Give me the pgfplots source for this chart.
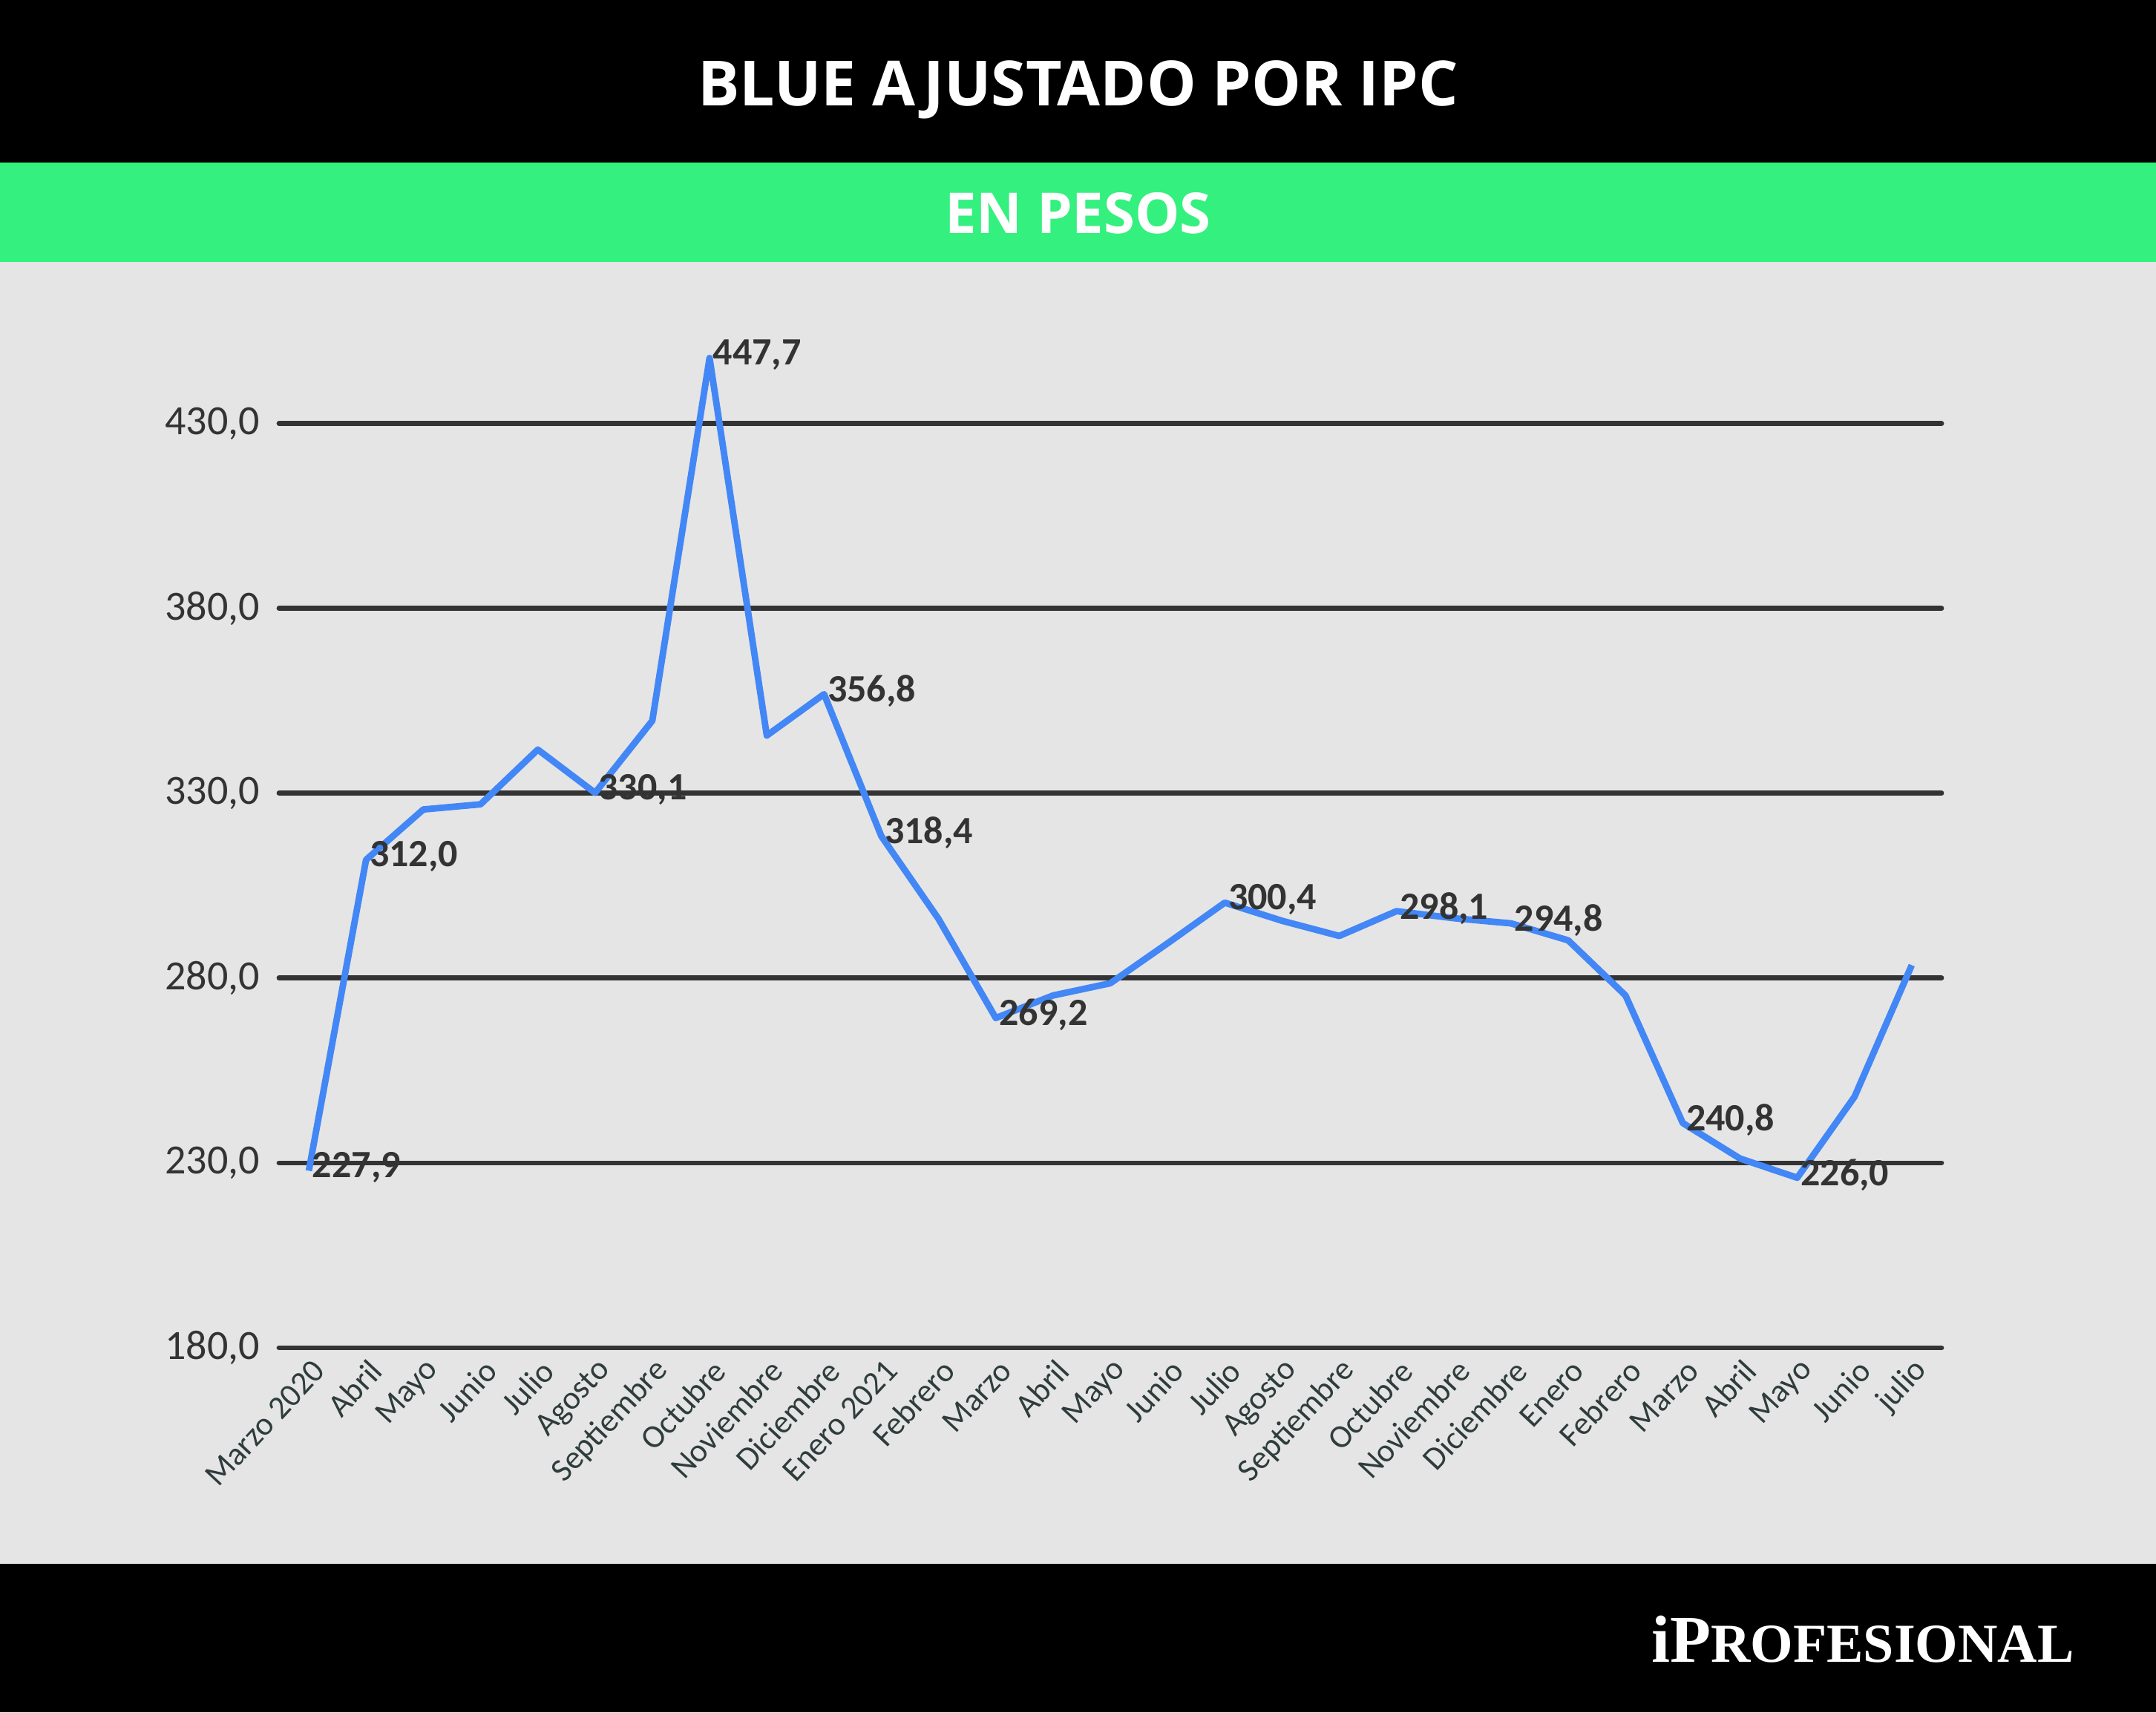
\documentclass[border=0pt]{standalone}
\usepackage{pgfplots}
\pgfplotsset{compat=1.18}
\usepackage{fontspec}
\setmainfont{Carlito}
\newfontfamily\titlefont{Open Sans}
\newfontfamily\logofont{Liberation Serif}

\definecolor{bandgreen}{RGB}{52,240,126}
\definecolor{panel}{RGB}{229,229,229}
\definecolor{gridc}{RGB}{51,51,51}
\definecolor{linec}{RGB}{66,135,245}
\definecolor{ticktxt}{RGB}{47,60,60}

% blue dollar adjusted by CPI, Mar 2020 - Jul 2022
\pgfplotstableread{
idx val
0 227.9
1 312.0
2 325.6
3 327.0
4 341.8
5 330.1
6 349.6
7 447.7
8 345.6
9 356.8
10 318.4
11 296.0
12 269.2
13 275.3
14 278.6
15 289.4
16 300.4
17 295.5
18 291.4
19 298.1
20 296.2
21 294.8
22 290.2
23 275.3
24 240.8
25 231.2
26 226.0
27 247.9
28 283.5
}\serie

% points that carry a value label
\pgfplotstableread{
idx val
0 227.9
1 312.0
5 330.1
7 447.7
9 356.8
10 318.4
12 269.2
16 300.4
19 298.1
21 294.8
24 240.8
26 226.0
}\etiquetas

\begin{document}
\begin{tikzpicture}[x=1pt,y=1pt]
% bands
\fill[black] (0,522) rectangle (726.25,576.75);
\fill[bandgreen] (0,488.5) rectangle (726.25,522);
\fill[panel] (0,50) rectangle (726.25,488.5);
\fill[black] (0,0) rectangle (726.25,50);

\node[white] at (363.1,546.5) {\titlefont\bfseries\fontsize{21}{24}\selectfont BLUE AJUSTADO POR IPC};
\node[white] at (363.1,505) {\titlefont\bfseries\fontsize{19}{22}\selectfont EN PESOS};
\node[white] at (627.5,24.5) {\logofont\bfseries{\fontsize{22.5}{23}\selectfont iP}{\fontsize{18.5}{20}\selectfont ROFESIONAL}};

\begin{axis}[
    at={(94pt,122.75pt)}, anchor=south west,
    width=560pt, height=342.5pt, scale only axis,
    xmin=-0.52, xmax=28.52,
    ymin=180, ymax=455,
    clip=false,
    axis line style={draw=none},
    major tick length=0pt,
    ymajorgrids,
    grid style={gridc, line width=1.7pt, line cap=round},
    ytick={180,230,280,330,380,430},
    xtick={0,...,28},
    xticklabels={Marzo 2020,Abril,Mayo,Junio,Julio,Agosto,Septiembre,Octubre,Noviembre,Diciembre,Enero 2021,Febrero,Marzo,Abril,Mayo,Junio,Julio,Agosto,Septiembre,Octubre,Noviembre,Diciembre,Enero,Febrero,Marzo,Abril,Mayo,Junio,julio},
    xticklabel style={rotate=47, anchor=east, font=\fontsize{11}{12}\selectfont, text=ticktxt, xshift=1.5pt, yshift=-6.5pt},
    yticklabel style={font=\fontsize{14}{16}\selectfont, text=gridc, xshift=-3pt},
    /pgf/number format/assume math mode=true,
    yticklabel={\pgfmathprintnumber[fixed,fixed zerofill,precision=1,use comma,1000 sep={}]{\tick}},
]
\addplot[linec, line width=2.2pt, line join=round, mark=none] table[x=idx, y=val] {\serie};
\addplot[draw=none, mark=none,
    point meta=y,
    nodes near coords={\pgfmathprintnumber[fixed,fixed zerofill,precision=1,use comma]{\pgfplotspointmeta}},
    nodes near coords style={anchor=west, font=\bfseries\fontsize{13}{15}\selectfont, text=gridc, inner sep=1pt, yshift=1pt},
] table[x=idx, y=val] {\etiquetas};
\end{axis}
\pgfresetboundingbox
\useasboundingbox (0,0) rectangle (726.25,576.75);
\end{tikzpicture}
\end{document}
